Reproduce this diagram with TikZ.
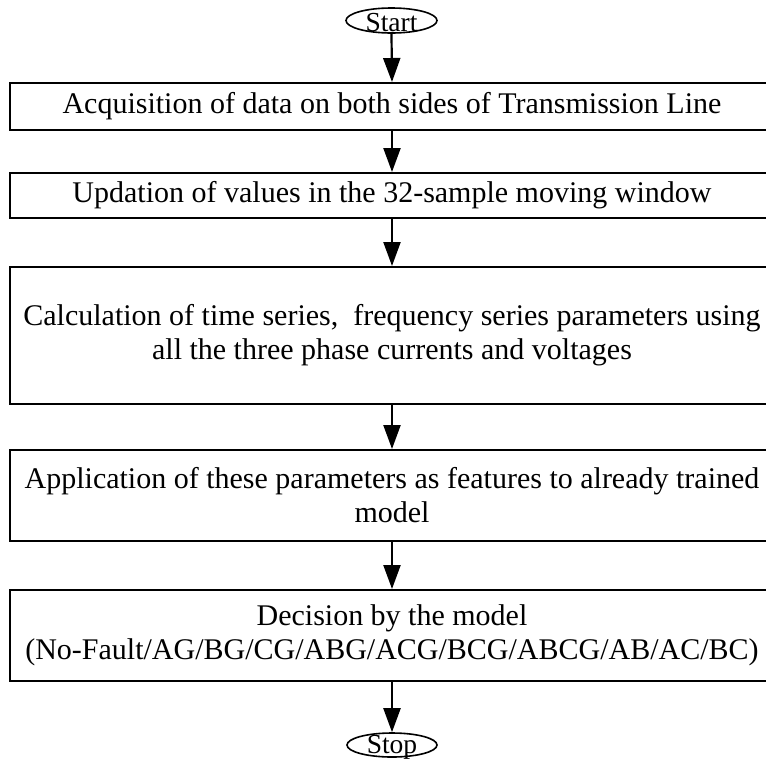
\documentclass[tikz,border=0pt]{standalone}
\usepackage{fontspec}
\setmainfont{Liberation Serif}
\usetikzlibrary{shapes.geometric,arrows.meta}
\tikzset{
  procbox/.style={draw, line width=2pt, minimum width=764pt, inner sep=0pt, align=center,
                  font=\fontsize{30}{34}\selectfont},
  termshape/.style={draw, ellipse, line width=1.6pt, minimum width=91pt, minimum height=25pt, inner sep=0pt},
  termtext/.style={inner sep=0pt, anchor=base, font=\fontsize{27.5}{30}\selectfont},
  flow/.style={line width=2.2pt, -{Triangle[length=24pt,width=17pt]}}
}
\begin{document}
\begin{tikzpicture}[x=1pt,y=-1pt]
\useasboundingbox (0,0) rectangle (766,764);
\clip (0,0) rectangle (766,764);
\node[termshape] (start) at (391.5,20.5) {};
\node[termtext] (starttxt) at (391.5,31.5) {Start};
\node[procbox, minimum height=47pt] (b1) at (392,106.5) {Acquisition of data on both sides of Transmission Line};
\node[procbox, minimum height=45pt] (b2) at (392,195.5) {Updation of values in the 32-sample moving window};
\node[procbox, minimum height=137pt] (b3) at (392,335.5) {Calculation of time series,~ frequency series parameters using\\all the three phase currents and voltages};
\node[procbox, minimum height=91pt] (b4) at (392,495.5) {Application of these parameters as features to already trained\\model};
\node[procbox, minimum height=91pt] (b5) at (392,635.5) {Decision by the model\\(No-Fault/AG/BG/CG/ABG/ACG/BCG/ABCG/AB/AC/BC)};
\node[termshape, minimum width=90pt, minimum height=24pt] (stop) at (392,745) {};
\node[termtext] (stoptxt) at (392,753.5) {Stop};
\draw[flow] (start.south) -- (b1.north);
\draw[flow] (b1.south) -- (b2.north);
\draw[flow] (b2.south) -- (b3.north);
\draw[flow] (b3.south) -- (b4.north);
\draw[flow] (b4.south) -- (b5.north);
\draw[flow] (b5.south) -- (stop.north);
\end{tikzpicture}
\end{document}
